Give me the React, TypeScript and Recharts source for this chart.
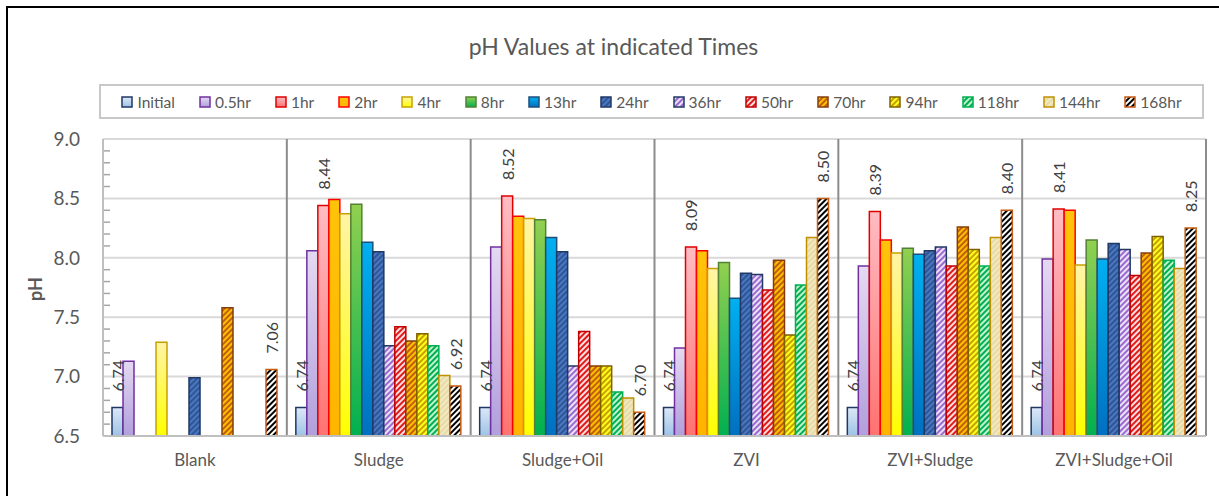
import React from 'react';
import { BarChart, Bar, XAxis, YAxis, CartesianGrid, Legend, LabelList } from 'recharts';

const FONT = 'Lato, "Open Sans", sans-serif';

// ---------- data ----------
const categories = ['Blank', 'Sludge', 'Sludge+Oil', 'ZVI', 'ZVI+Sludge', 'ZVI+Sludge+Oil'];
const seriesNames = ['Initial', '0.5hr', '1hr', '2hr', '4hr', '8hr', '13hr', '24hr', '36hr', '50hr', '70hr', '94hr', '118hr', '144hr', '168hr'];

const initial = [6.74, 6.74, 6.74, 6.74, 6.74, 6.74];
const h05 = [7.13, 8.06, 8.09, 7.24, 7.93, 7.99];
const h1 = [null, 8.44, 8.52, 8.09, 8.39, 8.41];
const h2 = [null, 8.49, 8.35, 8.06, 8.15, 8.40];
const h4 = [7.29, 8.37, 8.33, 7.91, 8.04, 7.94];
const h8 = [null, 8.45, 8.32, 7.96, 8.08, 8.15];
const h13 = [null, 8.13, 8.17, 7.66, 8.03, 7.99];
const h24 = [6.99, 8.05, 8.05, 7.87, 8.06, 8.12];
const h36 = [null, 7.26, 7.09, 7.86, 8.09, 8.07];
const h50 = [null, 7.42, 7.38, 7.73, 7.93, 7.85];
const h70 = [7.58, 7.30, 7.09, 7.98, 8.26, 8.04];
const h94 = [null, 7.36, 7.09, 7.35, 8.07, 8.18];
const h118 = [null, 7.26, 6.87, 7.77, 7.93, 7.98];
const h144 = [null, 7.01, 6.82, 8.17, 8.17, 7.91];
const h168 = [7.06, 6.92, 6.70, 8.50, 8.40, 8.25];

const seriesValues = [initial, h05, h1, h2, h4, h8, h13, h24, h36, h50, h70, h94, h118, h144, h168];
const labelledSeries = ['Initial', '1hr', '168hr'];

const yTicks = [6.5, 7.0, 7.5, 8.0, 8.5, 9.0];
const yMinorTicks = [6.6, 6.7, 6.8, 6.9, 7.1, 7.2, 7.3, 7.4, 7.6, 7.7, 7.8, 7.9, 8.1, 8.2, 8.3, 8.4, 8.6, 8.7, 8.8, 8.9];
const yAllTicks = [...yTicks, ...yMinorTicks].sort((a, b) => a - b);
const Y_DOMAIN: [number, number] = [6.5, 9];

const data = categories.map((name, i) => {
  const row: Record<string, any> = { name };
  seriesValues.forEach((vals, j) => {
    row['s' + j] = vals[i];
  });
  return row;
});

// ---------- styles ----------
type Style = { kind: 'grad' | 'pat'; c1: string; c2: string; stroke: string };
const seriesStyles: Style[] = [
  { kind: 'grad', c1: '#dce8f6', c2: '#9dc3e6', stroke: '#203864' },
  { kind: 'grad', c1: '#e4d9f1', c2: '#b19fdc', stroke: '#7030a0' },
  { kind: 'grad', c1: '#ffbcc3', c2: '#ff7272', stroke: '#e00000' },
  { kind: 'grad', c1: '#ffc30a', c2: '#ffb400', stroke: '#ff0000' },
  { kind: 'grad', c1: '#fff4a6', c2: '#ffff00', stroke: '#c9a000' },
  { kind: 'grad', c1: '#92d050', c2: '#00b050', stroke: '#538135' },
  { kind: 'grad', c1: '#00b0f0', c2: '#0070c0', stroke: '#1f4e79' },
  { kind: 'pat', c1: '#2f5597', c2: '#4a78c0', stroke: '#1f3864' },
  { kind: 'pat', c1: '#ece2f7', c2: '#9a6ad0', stroke: '#203864' },
  { kind: 'pat', c1: '#ffe0e0', c2: '#e01a1a', stroke: '#c00000' },
  { kind: 'pat', c1: '#ffc000', c2: '#c0600f', stroke: '#843c0c' },
  { kind: 'pat', c1: '#ffff20', c2: '#c8a000', stroke: '#7f6000' },
  { kind: 'pat', c1: '#c4f2d2', c2: '#00b050', stroke: '#00b050' },
  { kind: 'pat', c1: '#f2e9c4', c2: '#e6dba4', stroke: '#bf9000' },
  { kind: 'pat', c1: '#ffffff', c2: '#000000', stroke: '#c55a11' },
];

const fillId = (j: number) => (seriesStyles[j].kind === 'grad' ? 'g' : 'p') + j;

const Defs = () => (
  <defs>
    {seriesStyles.map((s, j) =>
      s.kind === 'grad' ? (
        <linearGradient key={j} id={fillId(j)} x1="0" y1="0" x2="0" y2="1">
          <stop offset="0%" stopColor={s.c1} />
          <stop offset="100%" stopColor={s.c2} />
        </linearGradient>
      ) : (
        <pattern key={j} id={fillId(j)} patternUnits="userSpaceOnUse" width={4} height={4} patternTransform="rotate(45)">
          <rect width={4} height={4} fill={s.c1} />
          <rect width={2} height={4} fill={s.c2} />
        </pattern>
      )
    )}
  </defs>
);

const RotLabel = (props: any) => {
  const { value } = props;
  if (value === null || value === undefined) return null;
  const vb = props.viewBox || props;
  const x = vb.x ?? props.x;
  const y = vb.y ?? props.y;
  const w = vb.width ?? props.width;
  const cx = x + w / 2;
  const ty = y - 16;
  return (
    <text
      x={cx}
      y={ty}
      transform={`rotate(-90 ${cx} ${ty})`}
      textAnchor="start"
      dominantBaseline="central"
      fontSize={16}
      fill="#404040"
      fontFamily={FONT}
    >
      {Number(value).toFixed(2)}
    </text>
  );
};

const Y_TICK_MARGIN = 23;
const YTick = (props: any) => {
  const { x, y, payload } = props;
  const v = payload?.value;
  const isMajor = yTicks.some((t) => Math.abs(t - v) < 1e-6);
  if (isMajor) {
    return (
      <text x={x} y={y} dy="0.355em" textAnchor="end" fontSize={19} fill="#595959" fontFamily={FONT}>
        {Number(v).toFixed(1)}
      </text>
    );
  }
  const ax = x + Y_TICK_MARGIN;
  return <line x1={ax + 1} x2={ax + 7} y1={y} y2={y} stroke="#a6a6a6" strokeWidth={1.5} />;
};

const vertGen = (p: any) => {
  const { xAxis, offset } = p || {};
  const s = xAxis?.scale;
  if (s && typeof s === 'function' && typeof s.bandwidth === 'function') {
    const pts = categories.map((c) => s(c));
    pts.push(s(categories[categories.length - 1]) + s.bandwidth());
    if (pts.every((v: any) => Number.isFinite(v))) return pts;
  }
  return categories.map((_, k) => offset.left + (offset.width * k) / categories.length).concat([offset.left + offset.width]);
};

const horzGen = (p: any) => {
  const { yAxis, offset } = p || {};
  const s = yAxis?.scale;
  if (s && typeof s === 'function') {
    const pts = yTicks.map((v) => s(v));
    if (pts.every((v: any) => Number.isFinite(v))) return pts;
  }
  return yTicks.map((v) => offset.top + (offset.height * (Y_DOMAIN[1] - v)) / (Y_DOMAIN[1] - Y_DOMAIN[0]));
};

const LegendContent = () => (
  <div
    style={{
      display: 'flex',
      justifyContent: 'center',
      alignItems: 'center',
      height: '100%',
      gap: 24,
      fontFamily: FONT,
      fontSize: 15.5,
      color: '#595959',
    }}
  >
    {seriesNames.map((n, j) => (
      <div key={n} style={{ display: 'flex', alignItems: 'center', gap: 4 }}>
        <svg width={12} height={12} style={{ display: 'block' }}>
          <rect x={1} y={1} width={10} height={10} fill={`url(#${fillId(j)})`} stroke={seriesStyles[j].stroke} strokeWidth={1.5} />
        </svg>
        <span>{n}</span>
      </div>
    ))}
  </div>
);

export default function App() {
  return (
    <div style={{ position: 'absolute', left: 0, top: 0, width: 1219, height: 496, background: '#fff', fontFamily: FONT, overflow: 'hidden' }}>
      <div style={{ position: 'absolute', left: 6, top: 6, width: 1220, height: 500, borderTop: '2px solid #000', borderLeft: '2px solid #000' }} />
      <div style={{ position: 'absolute', left: 0, top: 0 }}>
        <BarChart
          width={1219}
          height={496}
          data={data}
          margin={{ top: 139, right: 13, bottom: 0, left: 0 }}
          barCategoryGap={9}
          barGap={0}
        >
          <Defs />
          <CartesianGrid vertical={false} stroke="#d9d9d9" strokeWidth={2} horizontalCoordinatesGenerator={horzGen} />
          <CartesianGrid horizontal={false} stroke="#8c8c8c" strokeWidth={2} verticalCoordinatesGenerator={vertGen} />
          <XAxis
            dataKey="name"
            interval={0}
            tickLine={false}
            tickSize={0}
            tickMargin={18}
            height={60}
            axisLine={{ stroke: '#bfbfbf', strokeWidth: 2 }}
            tick={{ fontSize: 17, fill: '#595959' }}
          />
          <YAxis
            domain={Y_DOMAIN}
            ticks={yAllTicks}
            interval={0}
            allowDataOverflow
            width={103}
            tickLine={false}
            tickSize={0}
            tickMargin={Y_TICK_MARGIN}
            axisLine={{ stroke: '#bfbfbf', strokeWidth: 2 }}
            tick={<YTick />}
          />
          <Legend
            layout="horizontal"
            verticalAlign="middle"
            align="center"
            content={<LegendContent />}
            wrapperStyle={{ left: 99, top: 84, width: 1105, height: 35, border: '2px solid #c8c8c8', boxSizing: 'border-box', background: '#fff' }}
          />
          {seriesNames.map((n, j) => (
            <Bar
              key={n}
              dataKey={'s' + j}
              name={n}
              fill={`url(#${fillId(j)})`}
              stroke={seriesStyles[j].stroke}
              strokeWidth={1.5}
              isAnimationActive={false}
            >
              {labelledSeries.includes(n) && <LabelList dataKey={'s' + j} content={<RotLabel />} />}
            </Bar>
          ))}
        </BarChart>
      </div>
      <div style={{ position: 'absolute', left: 4, top: 32, width: 1219, textAlign: 'center', fontSize: 23, lineHeight: '28px', color: '#595959' }}>
        pH Values at indicated Times
      </div>
      <div
        style={{
          position: 'absolute',
          left: 35,
          top: 289,
          transform: 'translate(-50%, -50%) rotate(-90deg)',
          fontSize: 18,
          fontWeight: 700,
          color: '#595959',
          lineHeight: '20px',
          whiteSpace: 'nowrap',
        }}
      >
        pH
      </div>
    </div>
  );
}
